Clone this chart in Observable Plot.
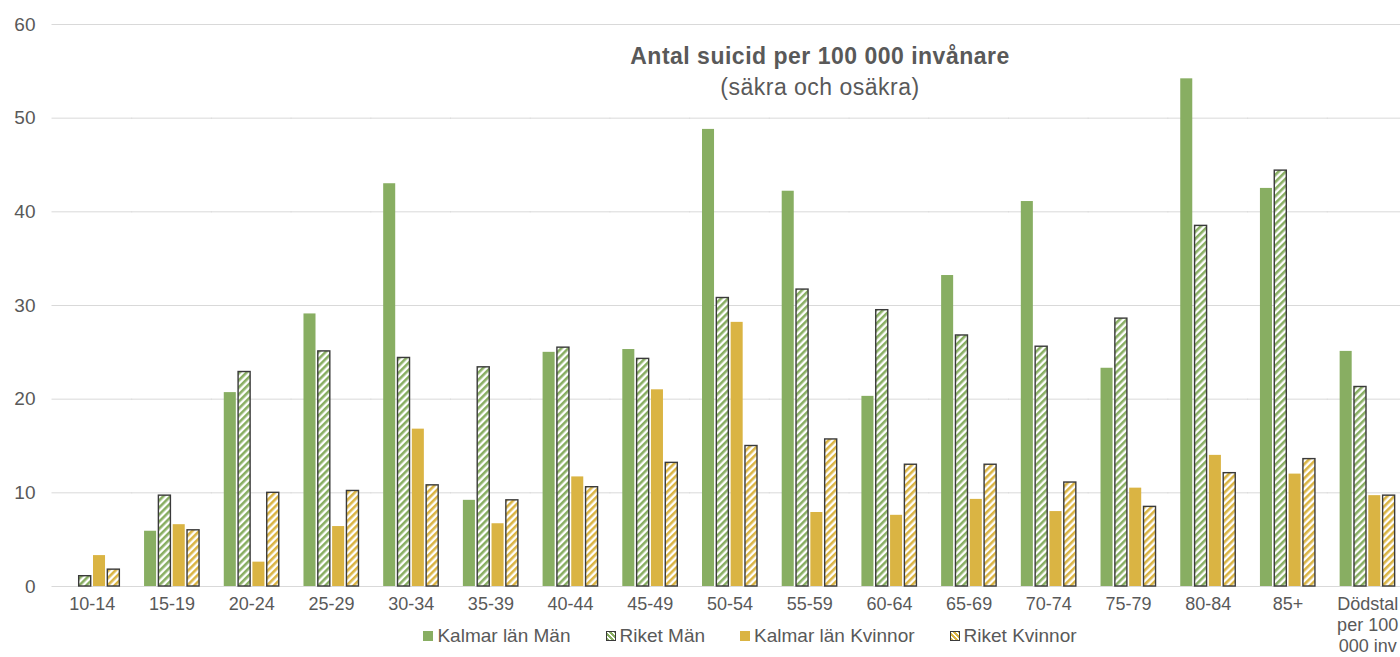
<!DOCTYPE html>
<html>
<head>
<meta charset="utf-8">
<script src="https://cdn.jsdelivr.net/npm/d3@7"></script>
<script src="https://cdn.jsdelivr.net/npm/@observablehq/plot@0.6"></script>
<style>
  html, body { margin: 0; padding: 0; background: #fff; overflow: hidden; width: 1400px; height: 657px; }
  #wrap { position: relative; width: 1400px; height: 657px; overflow: hidden; font-family: "Liberation Sans", Arial, sans-serif; color: #595959; }
  #chart svg { max-width: none !important; }
  #title { position: absolute; left: 0; width: 1640px; top: 43px; text-align: center; font-weight: bold; font-size: 23px; letter-spacing: 0.5px; color: #595959; }
  #subtitle { position: absolute; left: 0; width: 1640px; top: 74px; text-align: center; font-size: 23px; letter-spacing: 0.5px; color: #595959; }
  #legend { position: absolute; left: 0; width: 1500px; top: 625px; display: flex; justify-content: center; gap: 35px; font-size: 19px; color: #595959; }
  .item { display: flex; align-items: center; gap: 4px; }
  .sw { width: 10px; height: 10px; box-sizing: border-box; }
</style>
</head>
<body>
<div id="wrap">
  <div id="chart"></div>
  <div id="title">Antal suicid per 100 000 invånare</div>
  <div id="subtitle">(säkra och osäkra)</div>
  <div id="legend"></div>
</div>
<script>
const categories = ["10-14","15-19","20-24","25-29","30-34","35-39","40-44","45-49","50-54","55-59","60-64","65-69","70-74","75-79","80-84","85+","Dödstal\nper 100\n000 inv"];
const seriesNames = ["Kalmar län Män","Riket Män","Kalmar län Kvinnor","Riket Kvinnor"];
const kalmarMan    = [null, 5.9, 20.7, 29.1, 43.0, 9.2, 25.0, 25.3, 48.8, 42.2, 20.3, 33.2, 41.1, 23.3, 54.2, 42.5, 25.1];
const riketMan     = [1.1, 9.7, 22.9, 25.1, 24.4, 23.4, 25.5, 24.3, 30.8, 31.7, 29.5, 26.8, 25.6, 28.6, 38.5, 44.4, 21.3];
const kalmarKvinna = [3.3, 6.6, 2.6, 6.4, 16.8, 6.7, 11.7, 21.0, 28.2, 7.9, 7.6, 9.3, 8.0, 10.5, 14.0, 12.0, 9.7];
const riketKvinna  = [1.8, 6.0, 10.0, 10.2, 10.8, 9.2, 10.6, 13.2, 15.0, 15.7, 13.0, 13.0, 11.1, 8.5, 12.1, 13.6, 9.7];
const yTicks = [0, 10, 20, 30, 40, 50, 60];

const green = "#88ae62";
const yellow = "#dab443";
const fills = [green, "url(#hatchGreen)", yellow, "url(#hatchYellow)"];
const hatched = [false, true, false, true];
const seriesValues = [kalmarMan, riketMan, kalmarKvinna, riketKvinna];

const data = [];
categories.forEach((c, i) => {
  seriesNames.forEach((s, j) => {
    const v = seriesValues[j][i];
    if (v != null) data.push({cat: c, series: s, value: v, fill: fills[j], hatched: hatched[j]});
  });
});

const W = 1407, ML = 52;
const fxPadInner = 0.31, fxPadOuter = 0.155;
const step = (W - ML) / categories.length;
const facetGap = step * fxPadInner / 2;      // half the gap between groups
const facetLeft = step * fxPadOuter;         // offset of first facet from the frame

const plot = Plot.plot({
  width: W,
  height: 657,
  marginLeft: ML,
  marginRight: 0,
  marginTop: 24,
  marginBottom: 71,
  style: {fontFamily: "'Liberation Sans', Arial, sans-serif", fontSize: "19px", color: "#595959", background: "transparent", maxWidth: "none"},
  fx: {domain: categories, paddingInner: fxPadInner, paddingOuter: fxPadOuter, round: false, label: null},
  x: {domain: seriesNames, paddingInner: 0.16, paddingOuter: 0, round: false, axis: null},
  y: {domain: [0, 60], label: null},
  marks: [
    Plot.ruleY(yTicks, {stroke: "#d9d9d9", strokeWidth: 1, insetLeft: -facetGap - 0.5, insetRight: -facetGap - 0.5}),
    Plot.barY(data.filter(d => !d.hatched), {fx: "cat", x: "series", y: "value", fill: "fill"}),
    Plot.barY(data.filter(d => d.hatched), {fx: "cat", x: "series", y: "value", fill: "fill", stroke: "#3a3a3a", strokeWidth: 1.4}),
    Plot.axisY({ticks: yTicks, tickSize: 0, tickPadding: 17 + facetLeft, fontSize: 19, label: null, fill: "#595959"}),
    Plot.axisFx({anchor: "bottom", tickSize: 0, tickPadding: 9, fontSize: 18, label: null, lineHeight: 1.15, fill: "#595959"})
  ]
});

// hatch pattern defs
const ns = "http://www.w3.org/2000/svg";
const defs = document.createElementNS(ns, "defs");
function makePattern(id, color) {
  const p = document.createElementNS(ns, "pattern");
  p.setAttribute("id", id);
  p.setAttribute("patternUnits", "userSpaceOnUse");
  p.setAttribute("width", "5");
  p.setAttribute("height", "5");
  p.setAttribute("patternTransform", "rotate(45)");
  const bg = document.createElementNS(ns, "rect");
  bg.setAttribute("width", "5"); bg.setAttribute("height", "5"); bg.setAttribute("fill", "#ffffff");
  const ln = document.createElementNS(ns, "rect");
  ln.setAttribute("width", "2.6"); ln.setAttribute("height", "5"); ln.setAttribute("fill", color);
  p.appendChild(bg); p.appendChild(ln);
  return p;
}
defs.appendChild(makePattern("hatchGreen", green));
defs.appendChild(makePattern("hatchYellow", yellow));
plot.insertBefore(defs, plot.firstChild);
plot.style.maxWidth = "none";
document.getElementById("chart").appendChild(plot);

// legend
const legend = document.getElementById("legend");
seriesNames.forEach((s, j) => {
  const item = document.createElement("div");
  item.className = "item";
  const sw = document.createElement("div");
  sw.className = "sw";
  if (hatched[j]) {
    const col = j === 1 ? green : yellow;
    sw.style.border = "1.4px solid #3a3a3a";
    sw.style.background = `repeating-linear-gradient(45deg, ${col} 0 2px, #fff 2px 3.5px)`;
  } else {
    sw.style.background = fills[j];
  }
  const t = document.createElement("span");
  t.textContent = s;
  item.appendChild(sw); item.appendChild(t);
  legend.appendChild(item);
});
</script>
</body>
</html>
